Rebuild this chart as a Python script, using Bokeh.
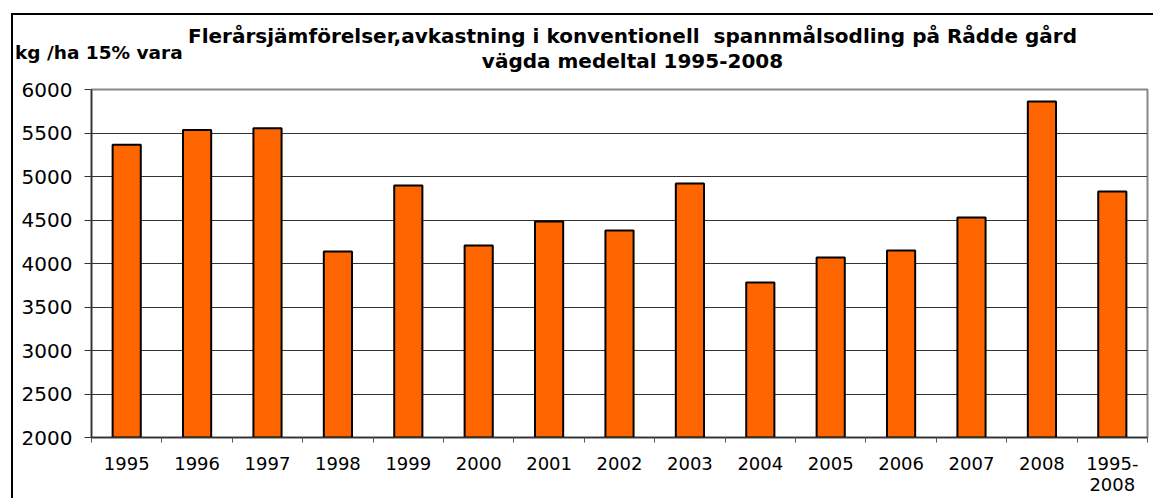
from bokeh.plotting import figure
from bokeh.layouts import column, row, Spacer
from bokeh.models import (FixedTicker, CustomJSTickFormatter, Div,
                          Range1d, ColumnDataSource)
from bokeh.embed import file_html
from bokeh.resources import INLINE

# ---- data ----
categories = ["1995", "1996", "1997", "1998", "1999", "2000", "2001", "2002",
              "2003", "2004", "2005", "2006", "2007", "2008", "1995-\n2008"]
yields = [5364, 5535, 5555, 4138, 4897, 4207, 4483, 4379, 4920, 3781, 4069,
          4149, 4528, 5862, 4828]
y_ticks = [2000, 2500, 3000, 3500, 4000, 4500, 5000, 5500, 6000]
title_line1 = "Flerårsjämförelser,avkastning i konventionell  spannmålsodling på Rådde gård"
title_line2 = "vägda medeltal 1995-2008"
y_label = "kg /ha 15% vara"

W = 1140
HEAD_H = 61
MAIN_H = 422

# ---- header (titles as HTML text) ----
span = ("position:absolute;white-space:pre;line-height:1;margin:0;padding:0;"
        "font-family:'DejaVu Sans';font-weight:bold;color:black;")
header_html = (
    f'<div style="position:relative;width:{W}px;height:{HEAD_H}px;overflow:visible;">'
    f'<span style="{span}font-size:20px;left:619.5px;top:11px;transform:translateX(-50%);">{title_line1}</span>'
    f'<span style="{span}font-size:20px;left:619.5px;top:36px;transform:translateX(-50%);">{title_line2}</span>'
    f'<span style="{span}font-size:18.5px;left:2px;top:29px;">{y_label}</span>'
    '</div>'
)
head = Div(text=header_html, width=W, height=HEAD_H,
           styles={"margin": "0", "padding": "0"})

# ---- main chart ----
n = len(categories)
xs = [i + 0.5 for i in range(n)]
src = ColumnDataSource(dict(x=xs, top=yields, cat=categories))

p = figure(width=W, height=MAIN_H, output_backend="svg", toolbar_location=None,
           x_range=Range1d(0, n), y_range=Range1d(2000, 6000),
           min_border_left=78, min_border_right=6, min_border_top=13,
           min_border_bottom=61)
p.background_fill_color = "white"
p.border_fill_color = "white"
p.outline_line_color = "#888888"
p.outline_line_width = 2

p.vbar(x="x", top="top", bottom=2000, width=0.4, source=src,
       fill_color="#FF6600", line_color="black", line_width=2)

yax = p.yaxis[0]
yax.ticker = FixedTicker(ticks=y_ticks)
yax.major_tick_out = 7
yax.major_tick_in = 0
yax.minor_tick_out = 0
yax.minor_tick_in = 0
yax.major_label_standoff = 12
yax.major_label_text_font = "DejaVu Sans"
yax.major_label_text_font_size = "20px"
yax.major_label_text_color = "black"
yax.axis_line_color = "#333333"
yax.axis_line_width = 1.5
yax.major_tick_line_color = "#333333"

xax = p.xaxis[0]
xax.ticker = FixedTicker(ticks=xs, minor_ticks=list(range(n + 1)))
xax.formatter = CustomJSTickFormatter(args=dict(labels=categories),
                                      code="return labels[Math.round(tick - 0.5)];")
xax.major_tick_out = 0
xax.major_tick_in = 0
xax.minor_tick_out = 5
xax.minor_tick_in = 0
xax.minor_tick_line_color = "#555555"
xax.major_label_standoff = 10
xax.major_label_text_font = "DejaVu Sans"
xax.major_label_text_font_size = "18px"
xax.major_label_text_line_height = 1.0
xax.major_label_text_color = "black"
xax.axis_line_color = "#333333"
xax.axis_line_width = 1.5

p.xgrid.grid_line_color = None
p.ygrid.ticker = FixedTicker(ticks=y_ticks)
p.ygrid.grid_line_color = "#333333"
p.ygrid.grid_line_width = 1

boxed = column(head, p, spacing=0,
               styles={"border-left": "2px solid black",
                       "border-top": "2px solid black"})
layout = row(Spacer(width=11), column(Spacer(height=13), boxed, spacing=0), spacing=0)

open("out.html", "w").write(file_html(layout, INLINE))
